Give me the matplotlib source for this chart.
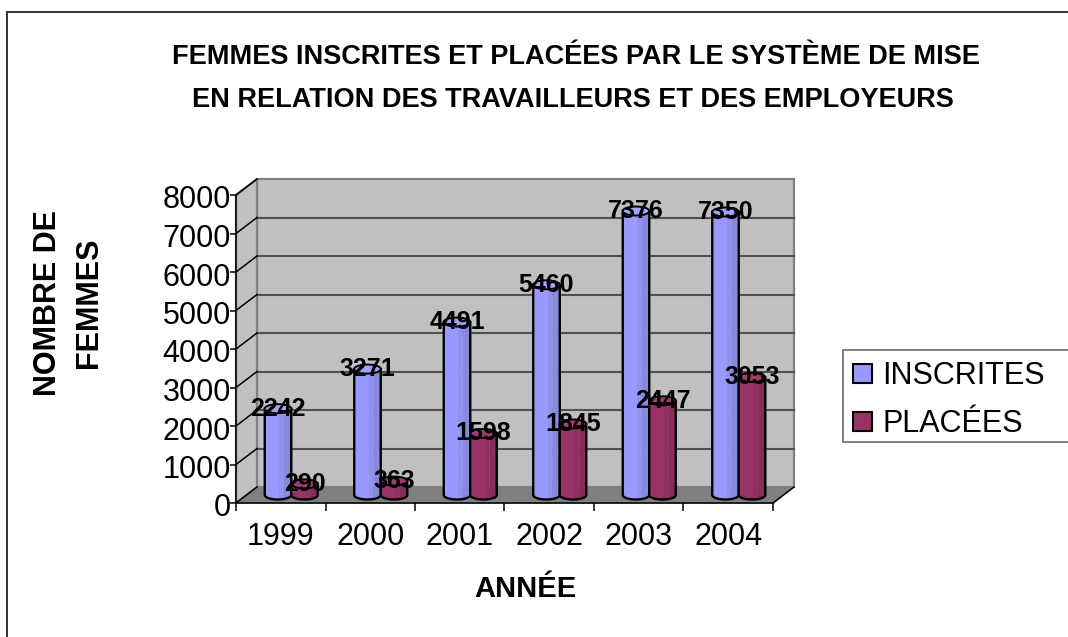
import numpy as np
import matplotlib
matplotlib.use("Agg")
import matplotlib.pyplot as plt
from matplotlib.patches import Polygon, Rectangle
from matplotlib.lines import Line2D
from matplotlib.transforms import Affine2D

annees = ["1999", "2000", "2001", "2002", "2003", "2004"]
inscrites = [2242, 3271, 4491, 5460, 7376, 7350]
placees = [290, 363, 1598, 1845, 2447, 3053]
yticks = [0, 1000, 2000, 3000, 4000, 5000, 6000, 7000, 8000]

W, H = 1068, 637
plt.rcParams["font.family"] = ["Liberation Sans", "DejaVu Sans"]

fig = plt.figure(figsize=(W / 100, H / 100), dpi=100)
ax = fig.add_axes([236 / W, 1 - 503 / H, 537 / W, 308 / H])
ax.set_xlim(0, 6)
ax.set_ylim(0, 8000)
ax.patch.set_visible(False)

# pixel sizes converted to data units
px_x = 6 / 537
px_y = 8000 / 308
dx = 21 * px_x
dy = 16 * px_y
ell = 4.5 * px_y
bar_w = 26.5 * px_x

# walls and floor
ax.add_patch(Rectangle((dx, dy), 6, 8000 - 0, fc="#C0C0C0", ec="#808080", lw=1.6, zorder=1, clip_on=False))
ax.add_patch(Polygon([(0, 0), (dx, dy), (dx, dy + 8000), (0, 8000)], fc="#C0C0C0", ec="#808080", lw=1.6, zorder=1, clip_on=False))
ax.add_patch(Polygon([(0, 0), (6, 0), (6 + dx, dy), (dx, dy)], fc="#808080", ec="#808080", lw=1, zorder=1.5, clip_on=False))
for v in yticks[1:-1]:
    ax.plot([dx, 6 + dx], [v + dy, v + dy], color="#505050", lw=1.5, zorder=2, clip_on=False)
for v in yticks:
    ax.plot([0, dx], [v, v + dy], color="black", lw=1.1, zorder=2, clip_on=False)
ax.plot([6, 6 + dx], [0, dy], color="black", lw=1.1, zorder=2, clip_on=False)


def cylindre(cx, val, bands, top_col, z):
    # vertical bands with rounded bottom, then ellipse on top
    base = dy / 2
    r = bar_w / 2
    xs = np.linspace(-r, r, 41)
    low = base - ell * np.sqrt(1 - (xs / r) ** 2)
    top = base + val
    for a, b, col in bands:
        m = (xs >= -r + a * 2 * r - 1e-9) & (xs <= -r + b * 2 * r + 1e-9)
        ax.fill_between(cx + xs[m], low[m], top, fc=col, ec=col, lw=0.6, zorder=z, clip_on=False)
    t = np.linspace(0, np.pi, 60)
    ox = np.r_[cx + r, cx + r * np.cos(-t), cx - r]
    oy = np.r_[top, base + ell * np.sin(-t), top]
    ax.plot(ox, oy, color="black", lw=1.7, zorder=z + 0.1, clip_on=False)
    t = np.linspace(0, 2 * np.pi, 80)
    ax.add_patch(Polygon(np.c_[cx + r * np.cos(t), top + ell * np.sin(t)], fc=top_col, ec="black", lw=1.4, zorder=z + 0.2, clip_on=False))


bleu = [(0, 0.55, "#9999FF"), (0.55, 0.72, "#9191EE"), (0.72, 1, "#8888DD")]
prune = [(0, 0.55, "#993366"), (0.55, 0.72, "#90305F"), (0.72, 1, "#862D59")]

x = np.arange(len(annees)) + 0.5 + dx / 2
for i in range(len(annees)):
    cylindre(x[i] - bar_w / 2, inscrites[i], bleu, "#A3A3FF", 3)
    cylindre(x[i] + bar_w / 2, placees[i], prune, "#A33D70", 3 + 0.5)
for i in range(len(annees)):
    ax.text(x[i] - bar_w / 2, inscrites[i] + dy / 2, str(inscrites[i]), ha="center", va="center",
            fontsize=18, fontweight="bold", zorder=6, clip_on=False)
    ax.text(x[i] + bar_w / 2, placees[i] + dy / 2, str(placees[i]), ha="center", va="center",
            fontsize=18, fontweight="bold", zorder=6, clip_on=False)

# axes
for s in ["top", "right"]:
    ax.spines[s].set_visible(False)
for s in ["left", "bottom"]:
    ax.spines[s].set_linewidth(1.1)
    ax.spines[s].set_zorder(2.5)
ax.set_yticks(yticks)
ax.set_xticks(range(7))
ax.set_xticklabels([])
ax.set_xticks(np.arange(6) + 0.5, annees, minor=True)
ax.tick_params(axis="y", labelsize=22, length=4, width=1.1, pad=1)
ax.tick_params(axis="x", which="major", length=6, width=1.1)
ax.tick_params(axis="x", which="minor", length=0, labelsize=22, pad=14)
for lab in ax.get_yticklabels():
    lab.set_transform(lab.get_transform() + Affine2D().translate(2, -2))

# titles
fig.text(576 / W, 1 - 57 / H, "FEMMES INSCRITES ET PLACÉES PAR LE SYSTÈME DE MISE", ha="center", va="center",
         fontsize=19.5, fontweight="bold")
fig.text(573 / W, 1 - 100 / H, "EN RELATION DES TRAVAILLEURS ET DES EMPLOYEURS", ha="center", va="center",
         fontsize=19.5, fontweight="bold")
fig.text(525 / W, 1 - 589 / H, "ANNÉE", ha="center", va="center", fontsize=21, fontweight="bold")
fig.text(48 / W, 1 - 303 / H, "NOMBRE DE", ha="center", va="center", rotation=90, fontsize=22, fontweight="bold")
fig.text(89 / W, 1 - 303 / H, "FEMMES", ha="center", va="center", rotation=90, fontsize=22, fontweight="bold")

# outer frame: only left and top show in the picture
fig.add_artist(Line2D([7 / W, 7 / W], [0, 1 - 12 / H], color="#303030", lw=1.4))
fig.add_artist(Line2D([7 / W, 1], [1 - 12 / H, 1 - 12 / H], color="#303030", lw=1.4))

# legend
fig.add_artist(Rectangle((843 / W, 1 - 442 / H), 240 / W, 92 / H, fc="white", ec="#808080", lw=1.4, transform=fig.transFigure))
handles = [Rectangle((0, 0), 1, 1, fc="#9999FF", ec="black", lw=1.5),
           Rectangle((0, 0), 1, 1, fc="#993366", ec="black", lw=1.5)]
fig.legend(handles, ["INSCRITES", "PLACÉES"], frameon=False, fontsize=22, loc="upper left",
           bbox_to_anchor=(844 / W, 1 - 352 / H), handlelength=0.6, handleheight=0.6, handletextpad=0.35,
           labelspacing=0.6, borderpad=0.3, borderaxespad=0)

fig.savefig("out.png", dpi=100)
